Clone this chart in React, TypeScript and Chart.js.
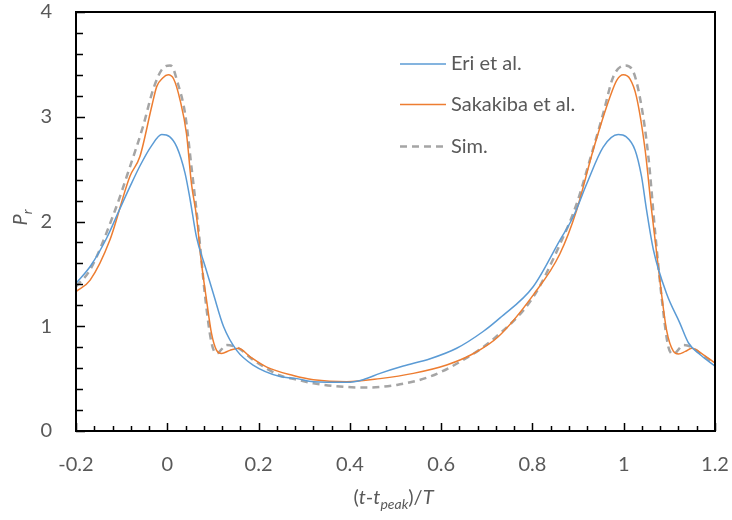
import React, { useEffect, useRef } from 'react';
import { Chart, registerables } from 'chart.js';

Chart.register(...registerables);

// ---- data ----
const eriX = [-0.2, -0.169, -0.133, -0.104, -0.082, -0.06, -0.035, -0.012, 0.005, 0.021, 0.039, 0.05, 0.064, 0.083, 0.101, 0.123, 0.152, 0.188, 0.247, 0.284, 0.32, 0.393, 0.429, 0.466, 0.517, 0.576, 0.634, 0.692, 0.729, 0.802, 0.86, 0.89, 0.919, 0.955, 0.988, 1.005, 1.025, 1.039, 1.05, 1.065, 1.094, 1.123, 1.142, 1.167, 1.2];
const eriY = [1.41, 1.57, 1.84, 2.12, 2.33, 2.53, 2.72, 2.83, 2.81, 2.71, 2.46, 2.21, 1.85, 1.57, 1.31, 1.0, 0.77, 0.63, 0.52, 0.5, 0.47, 0.465, 0.49, 0.55, 0.62, 0.69, 0.79, 0.95, 1.08, 1.38, 1.82, 2.05, 2.36, 2.71, 2.83, 2.81, 2.68, 2.43, 2.11, 1.73, 1.31, 1.03, 0.84, 0.73, 0.62];

const sakX = [-0.2, -0.169, -0.126, -0.082, -0.06, -0.034, -0.023, -0.01, 0.002, 0.014, 0.028, 0.042, 0.053, 0.064, 0.075, 0.086, 0.097, 0.108, 0.119, 0.137, 0.156, 0.181, 0.218, 0.276, 0.32, 0.393, 0.466, 0.539, 0.612, 0.671, 0.725, 0.802, 0.86, 0.897, 0.933, 0.97, 0.985, 0.999, 1.014, 1.028, 1.047, 1.061, 1.08, 1.094, 1.109, 1.12, 1.135, 1.149, 1.174, 1.2];
const sakY = [1.33, 1.44, 1.82, 2.43, 2.62, 3.1, 3.29, 3.37, 3.4, 3.36, 3.16, 2.84, 2.36, 2.05, 1.6, 1.25, 0.93, 0.77, 0.74, 0.77, 0.79, 0.71, 0.61, 0.53, 0.49, 0.47, 0.5, 0.55, 0.63, 0.74, 0.9, 1.3, 1.69, 2.11, 2.68, 3.19, 3.35, 3.4, 3.36, 3.19, 2.68, 2.11, 1.41, 0.96, 0.76, 0.735, 0.76, 0.79, 0.73, 0.65];

const simX = [-0.2, -0.169, -0.115, -0.082, -0.053, -0.031, -0.012, 0.006, 0.012, 0.021, 0.039, 0.053, 0.068, 0.083, 0.097, 0.108, 0.13, 0.156, 0.188, 0.247, 0.284, 0.32, 0.393, 0.437, 0.503, 0.576, 0.649, 0.715, 0.802, 0.86, 0.897, 0.926, 0.955, 0.977, 1.003, 1.021, 1.039, 1.054, 1.069, 1.083, 1.098, 1.109, 1.131, 1.149, 1.174, 1.2];
const simY = [1.38, 1.54, 2.1, 2.52, 2.91, 3.26, 3.45, 3.49, 3.47, 3.35, 3.03, 2.52, 1.94, 1.28, 0.84, 0.74, 0.82, 0.79, 0.68, 0.53, 0.49, 0.455, 0.42, 0.415, 0.44, 0.52, 0.68, 0.88, 1.28, 1.78, 2.17, 2.59, 3.03, 3.38, 3.49, 3.43, 3.1, 2.62, 1.89, 1.28, 0.8, 0.735, 0.82, 0.8, 0.72, 0.64];

const seriesNames = ['Eri et al.', 'Sakakiba et al.', 'Sim.'];

const xMin = -0.2;
const xMax = 1.2;
const xMajor = 0.2;
const xMinor = 0.04;
const yMin = 0;
const yMax = 4;
const yMajor = 1;
const yMinor = 0.2;

const TEXT = '#595959';
const FONT = 'Lato, "Open Sans", sans-serif';

const pts = (xs: number[], ys: number[]) => xs.map((x, i) => ({ x, y: ys[i] }));

const framePlugin = {
  id: 'frame',
  afterDatasetsDraw(chart: any) {
    const { ctx, chartArea: a, scales } = chart;
    const xs = scales.x;
    const ys = scales.y;
    ctx.save();
    ctx.strokeStyle = '#000';
    ctx.lineWidth = 1.5;
    ctx.beginPath();
    const nx = Math.round((xMax - xMin) / xMinor);
    for (let i = 0; i <= nx; i++) {
      const v = xMin + i * xMinor;
      const major = i % Math.round(xMajor / xMinor) === 0;
      const px = Math.round(xs.getPixelForValue(v)) + 0.5;
      ctx.moveTo(px, a.bottom);
      ctx.lineTo(px, a.bottom - (major ? 8 : 5));
    }
    const ny = Math.round((yMax - yMin) / yMinor);
    for (let i = 0; i <= ny; i++) {
      const v = yMin + i * yMinor;
      const major = i % Math.round(yMajor / yMinor) === 0;
      const py = Math.round(ys.getPixelForValue(v)) + 0.5;
      ctx.moveTo(a.left, py);
      ctx.lineTo(a.left + (major ? 9 : 7), py);
    }
    ctx.stroke();
    ctx.lineWidth = 2;
    ctx.strokeRect(a.left, a.top, a.right - a.left, a.bottom - a.top);
    ctx.restore();
  },
  afterDraw(chart: any) {
    const { ctx, chartArea: a } = chart;
    ctx.save();
    // legend
    const ds = chart.data.datasets;
    const legendX = 400;
    const legendY = [64, 104.5, 146.5];
    ds.forEach((d: any, i: number) => {
      ctx.beginPath();
      ctx.strokeStyle = d.borderColor;
      ctx.lineWidth = d.borderWidth;
      ctx.setLineDash(d.borderDash || []);
      ctx.moveTo(legendX, legendY[i]);
      ctx.lineTo(legendX + 46, legendY[i]);
      ctx.stroke();
      ctx.setLineDash([]);
      ctx.fillStyle = TEXT;
      ctx.font = `20px ${FONT}`;
      ctx.textBaseline = 'middle';
      ctx.textAlign = 'left';
      ctx.fillText(d.label, legendX + 51, legendY[i]);
    });

    // x axis title: (t-t_peak)/T
    const parts: [string, string, number][] = [
      ['(', 'normal', 0],
      ['t', 'italic', 0],
      ['-', 'normal', 0],
      ['t', 'italic', 0],
      ['peak', 'italic-sub', 0],
      [')/', 'normal', 0],
      ['T', 'italic', 0],
    ];
    const fontFor = (s: string) =>
      s === 'normal' ? `20px ${FONT}` : s === 'italic' ? `italic 20px ${FONT}` : `italic 14px ${FONT}`;
    let total = 0;
    parts.forEach((p) => {
      ctx.font = fontFor(p[1]);
      p[2] = ctx.measureText(p[0]).width;
      total += p[2];
    });
    const cx = (a.left + a.right) / 2 - 2;
    let x = cx - total / 2;
    const base = 504;
    ctx.fillStyle = TEXT;
    ctx.textAlign = 'left';
    ctx.textBaseline = 'alphabetic';
    parts.forEach((p) => {
      ctx.font = fontFor(p[1]);
      ctx.fillText(p[0], x, p[1] === 'italic-sub' ? base + 5 : base);
      x += p[2];
    });

    // y axis title: P_r (rotated)
    ctx.translate(27, (a.top + a.bottom) / 2 - 4);
    ctx.rotate(-Math.PI / 2);
    ctx.font = `italic 20px ${FONT}`;
    const wP = ctx.measureText('P').width;
    ctx.font = `italic 14px ${FONT}`;
    const wr = ctx.measureText('r').width;
    let yx = -(wP + wr) / 2;
    ctx.font = `italic 20px ${FONT}`;
    ctx.fillText('P', yx, 0);
    yx += wP;
    ctx.font = `italic 14px ${FONT}`;
    ctx.fillText('r', yx, 5);
    ctx.restore();
  },
};

export default function App() {
  const ref = useRef<HTMLCanvasElement>(null);
  useEffect(() => {
    if (!ref.current) return;
    const chart = new Chart(ref.current, {
      type: 'line',
      data: {
        datasets: [
          {
            label: seriesNames[0],
            data: pts(eriX, eriY),
            borderColor: '#5B9BD5',
            borderWidth: 1.5,
            pointRadius: 0,
            cubicInterpolationMode: 'monotone',
            fill: false,
          },
          {
            label: seriesNames[1],
            data: pts(sakX, sakY),
            borderColor: '#ED7D31',
            borderWidth: 1.5,
            pointRadius: 0,
            cubicInterpolationMode: 'monotone',
            fill: false,
          },
          {
            label: seriesNames[2],
            data: pts(simX, simY),
            borderColor: '#A5A5A5',
            borderWidth: 2.5,
            borderDash: [7, 5],
            pointRadius: 0,
            cubicInterpolationMode: 'monotone',
            fill: false,
          },
        ],
      },
      options: {
        responsive: false,
        animation: false,
        events: [],
        layout: { padding: { left: 0, right: 17, top: 12, bottom: 0 } },
        plugins: { legend: { display: false }, tooltip: { enabled: false } },
        scales: {
          x: {
            type: 'linear',
            min: xMin,
            max: xMax,
            grid: { display: false, drawTicks: false },
            border: { display: false },
            afterFit: (s: any) => {
              s.height = 89;
              s.paddingLeft = 0;
              s.paddingRight = 0;
            },
            ticks: {
              stepSize: xMajor,
              padding: 22,
              color: TEXT,
              font: { family: FONT, size: 20 },
              maxRotation: 0,
              autoSkip: false,
              callback: (v: any) => String(Number(Number(v).toFixed(2))),
            },
          },
          y: {
            type: 'linear',
            min: yMin,
            max: yMax,
            grid: { display: false, drawTicks: false },
            border: { display: false },
            afterFit: (s: any) => {
              s.width = 76;
              s.paddingTop = 0;
              s.paddingBottom = 0;
            },
            ticks: {
              stepSize: yMajor,
              padding: 24,
              color: TEXT,
              font: { family: FONT, size: 20 },
              callback: (v: any) => String(Number(Number(v).toFixed(2))),
            },
          },
        },
      },
      plugins: [framePlugin],
    } as any);
    return () => chart.destroy();
  }, []);
  return (
    <div style={{ position: 'fixed', left: 0, top: 0, width: 732, height: 520, background: '#fff' }}>
      <canvas ref={ref} width={732} height={520} style={{ width: 732, height: 520 }} />
    </div>
  );
}
